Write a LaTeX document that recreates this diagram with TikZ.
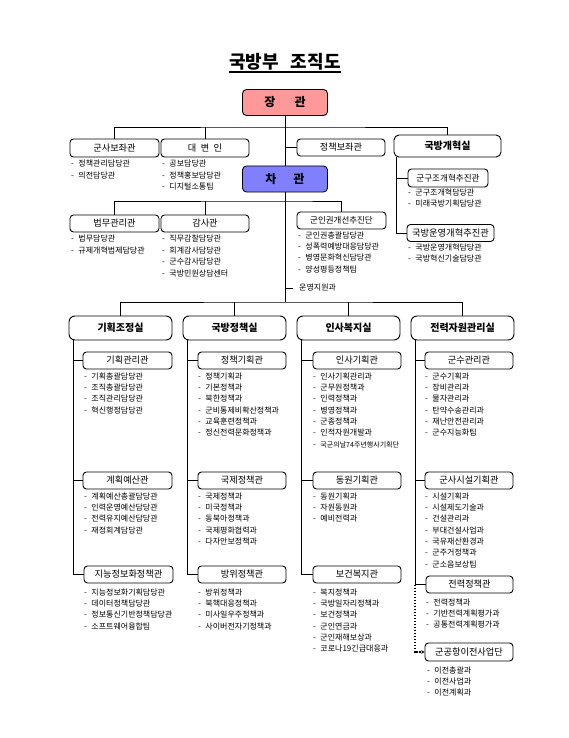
\documentclass[tikz,border=0pt]{standalone}
\usepackage{fontspec}
\setmainfont{Noto Sans CJK KR}
\usetikzlibrary{arrows.meta}
\definecolor{jangc}{RGB}{255,153,153}
\definecolor{chac}{RGB}{128,128,255}
\newcommand\itm{-\hspace{4.5pt}}
\begin{document}
\begin{tikzpicture}[x=1pt,y=-1pt,
  ln/.style={line width=0.9pt},
  dotln/.style={line width=1.6pt,dash pattern=on 1.6pt off 1.4pt,-{Stealth[length=3.5pt,width=3.5pt]}},
  ttl/.style={inner sep=0pt,font=\bfseries\fontsize{18}{20}\selectfont},
  topbox/.style={draw,line width=0.9pt,rounded corners=4pt,inner sep=0pt,minimum width=85pt,minimum height=26pt,font=\bfseries\fontsize{12}{14}\selectfont},
  ubox/.style={draw,line width=0.9pt,rounded corners=3.5pt,inner sep=0pt,minimum width=88pt,minimum height=17pt,font=\fontsize{9.2}{11}\selectfont},
  gbox/.style={draw,line width=0.9pt,rounded corners=5pt,inner sep=0pt,minimum width=107pt,minimum height=22pt,font=\bfseries\fontsize{10}{11}\selectfont},
  l2box/.style={draw,line width=0.9pt,rounded corners=6pt,inner sep=0pt,minimum width=103pt,minimum height=24pt,font=\bfseries\fontsize{10}{11}\selectfont},
  list/.style={anchor=north west,inner sep=0pt,align=left,font=\fontsize{8}{11.3}\selectfont},
  ulist/.style={anchor=north west,inner sep=0pt,align=left,font=\fontsize{8}{11.7}\selectfont},
  item/.style={inner sep=0pt,font=\fontsize{8}{9}\selectfont}
]
\useasboundingbox (0,0) rectangle (568,738);

% title
\node[ttl] (title) at (285,62) {국방부\hspace{12pt}조직도};
\draw[line width=1.5pt] ([yshift=-3.5pt]title.base west) -- ([yshift=-3.5pt]title.base east);

% top level
\node[topbox,fill=jangc] (jang) at (285,102.5) {장\hspace{19pt}관};
\node[topbox,fill=chac] (cha) at (285,179) {차\hspace{17pt}관};
\node[ubox,minimum width=89pt,minimum height=18pt] (gsbj) at (114.5,148) {군사보좌관};
\node[ubox,minimum height=18pt] (dbi) at (205,148) {대\hspace{4.5pt}변\hspace{4.5pt}인};
\node[ubox] (jcbj) at (341,147.5) {정책보좌관};
\node[gbox] (gbgh) at (447.5,146) {국방개혁실};
\node[ubox,minimum width=80pt,minimum height=18pt,font=\fontsize{8.6}{10}\selectfont] (ggj) at (448,178) {군구조개혁추진관};
\node[ubox,minimum width=87pt,font=\fontsize{9.3}{10}\selectfont] (gbuy) at (450.5,233) {국방운영개혁추진관};
\node[ubox,minimum width=89pt] (bmgr) at (114.5,223.5) {법무관리관};
\node[ubox] (gsg) at (205,223.5) {감사관};
\node[ubox,minimum width=89pt,font=\fontsize{8.5}{10}\selectfont] (gig) at (341.5,220.5) {군인권개선추진단};
\node[item,anchor=west] (uyj) at (299,288) {운영지원과};

% top lists
\node[ulist] (Lgsbj) at (71,159.5) {\itm 정책관리담당관\\\itm 의전담당관};
\node[ulist] (Ldbi) at (162,159.5) {\itm 공보담당관\\\itm 정책홍보담당관\\\itm 디지털소통팀};
\node[list] (Lggj) at (408,188.5) {\itm 군구조개혁담당관\\\itm 미래국방기획담당관};
\node[ulist] (Lbm) at (71,234.5) {\itm 법무담당관\\\itm 규제개혁법제담당관};
\node[ulist] (Lgsg) at (162,234.5) {\itm 직무감찰담당관\\\itm 회계감사담당관\\\itm 군수감사담당관\\\itm 국방민원상담센터};
\node[list] (Lgig) at (298,231.5) {\itm 군인권총괄담당관\\\itm 성폭력예방대응담당관\\\itm 병영문화혁신담당관\\\itm 양성평등정책팀};
\node[list] (Lgbuy) at (408,243.5) {\itm 국방운영개혁담당관\\\itm 국방혁신기술담당관};

% top connectors
\coordinate (b1) at (285,127);
\coordinate (b2) at (285,201);
\coordinate (b3) at (285,302);
\draw[ln] (jang.south) -- (cha.north);
\draw[ln] (gsbj.north) |- (b1) -| (gbgh.north);
\draw[ln] (dbi.north) -- (dbi.north |- b1);
\draw[ln] (jcbj.west) -- (jcbj.west -| jang.south);
\coordinate (gv) at ([xshift=3pt]gbgh.south west);
\draw[ln] (gv) |- (gbuy.west);
\draw[ln] (ggj.west) -- (ggj.west -| gv);
\draw[ln] (cha.south) -- (b3);
\draw[ln] (bmgr.north) |- (b2) -| (gig.north);
\draw[ln] (gsg.north) -- (gsg.north |- b2);
\draw[ln] (uyj.west -| cha.south) -- ([xshift=-6pt]uyj.west);

% level 2
\node[l2box] (kj) at (120.5,328) {기획조정실};
\node[l2box] (gc) at (234.5,328) {국방정책실};
\node[l2box] (ib) at (348.5,328) {인사복지실};
\node[l2box] (jr) at (462.5,328) {전력자원관리실};
\draw[ln] (kj.north) |- (b3) -| (jr.north);
\draw[ln] (gc.north) -- (gc.north |- b3);
\draw[ln] (ib.north) -- (ib.north |- b3);

% level 3 boxes
\node[ubox,minimum width=89pt] (s11) at (127.5,360.5) {기획관리관};
\node[ubox] (s21) at (242,360.5) {정책기획관};
\node[ubox] (s31) at (357,360.5) {인사기획관};
\node[ubox] (s41) at (469,360.5) {군수관리관};
\node[ubox,minimum width=89pt] (s12) at (127.5,480.5) {계획예산관};
\node[ubox] (s22) at (242,480.5) {국제정책관};
\node[ubox] (s32) at (357,480.5) {동원기획관};
\node[ubox] (s42) at (469,480.5) {군사시설기획관};
\node[ubox,minimum width=89pt] (s13) at (128.5,574.5) {지능정보화정책관};
\node[ubox] (s23) at (242,574.5) {방위정책관};
\node[ubox] (s33) at (357,574.5) {보건복지관};
\node[ubox,minimum width=87pt] (s43) at (469.5,584.5) {전력정책관};
\node[ubox,minimum height=18pt] (s44) at (469,652) {군공항이전사업단};

% level 3 connectors
\coordinate (v1) at ([xshift=5pt]kj.south west);
\coordinate (v2) at ([xshift=5pt]gc.south west);
\coordinate (v3) at ([xshift=5pt]ib.south west);
\coordinate (v4) at ([xshift=5pt]jr.south west);
\draw[ln] (v1) |- (s13.west);
\draw[ln] (s11.west) -- (s11.west -| v1);
\draw[ln] (s12.west) -- (s12.west -| v1);
\draw[ln] (v2) |- (s23.west);
\draw[ln] (s21.west) -- (s21.west -| v2);
\draw[ln] (s22.west) -- (s22.west -| v2);
\draw[ln] (v3) |- (s33.west);
\draw[ln] (s31.west) -- (s31.west -| v3);
\draw[ln] (s32.west) -- (s32.west -| v3);
\draw[ln] (v4) |- (s43.west);
\draw[ln] (s41.west) -- (s41.west -| v4);
\draw[ln] (s42.west) -- (s42.west -| v4);
\draw[dotln] ([xshift=-0.8pt]s43.west -| v4) -- ([xshift=-0.8pt]s44.west -| v4) -- (s44.west);

% level 3 lists
\node[list] (L11) at (84,372.5) {\itm 기획총괄담당관\\\itm 조직총괄담당관\\\itm 조직관리담당관\\\itm 혁신행정담당관};
\node[list] (L21) at (198,372.5) {\itm 정책기획과\\\itm 기본정책과\\\itm 북한정책과\\\itm 군비통제비확산정책과\\\itm 교육훈련정책과\\\itm 정신전력문화정책과};
\node[list] (L31) at (313,372.5) {\itm 인사기획관리과\\\itm 군무원정책과\\\itm 인력정책과\\\itm 병영정책과\\\itm 군종정책과\\\itm 인적자원개발과\\\itm {\fontsize{7}{7}\selectfont 국군의날74주년행사기획단}};
\node[list] (L41) at (425,372.5) {\itm 군수기획과\\\itm 장비관리과\\\itm 물자관리과\\\itm 탄약수송관리과\\\itm 재난안전관리과\\\itm 군수지능화팀};
\node[list] (L12) at (84,492.5) {\itm 계획예산총괄담당관\\\itm 인력운영예산담당관\\\itm 전력유지예산담당관\\\itm 재정회계담당관};
\node[list] (L22) at (198,492.5) {\itm 국제정책과\\\itm 미국정책과\\\itm 동북아정책과\\\itm 국제평화협력과\\\itm 다자안보정책과};
\node[list] (L32) at (313,492.5) {\itm 동원기획과\\\itm 자원동원과\\\itm 예비전력과};
\node[list] (L42) at (425,492.5) {\itm 시설기획과\\\itm 시설제도기술과\\\itm 건설관리과\\\itm 부대건설사업과\\\itm 국유재산환경과\\\itm 군주거정책과\\\itm 군소음보상팀};
\node[list] (L13) at (84,588.5) {\itm 지능정보화기획담당관\\\itm 데이터정책담당관\\\itm 정보통신기반정책담당관\\\itm 소프트웨어융합팀};
\node[list] (L23) at (198,588.5) {\itm 방위정책과\\\itm 북핵대응정책과\\\itm 미사일우주정책과\\\itm 사이버전자기정책과};
\node[list] (L33) at (313,588.5) {\itm 복지정책과\\\itm 국방일자리정책과\\\itm 보건정책과\\\itm 군인연금과\\\itm 군인재해보상과\\\itm 코로나19긴급대응과};
\node[list] (L43) at (426,598.5) {\itm 전력정책과\\\itm 기반전력계획평가과\\\itm 공통전력계획평가과};
\node[list] (L44) at (427,666.5) {\itm 이전총괄과\\\itm 이전사업과\\\itm 이전계획과};
\end{tikzpicture}
\end{document}
